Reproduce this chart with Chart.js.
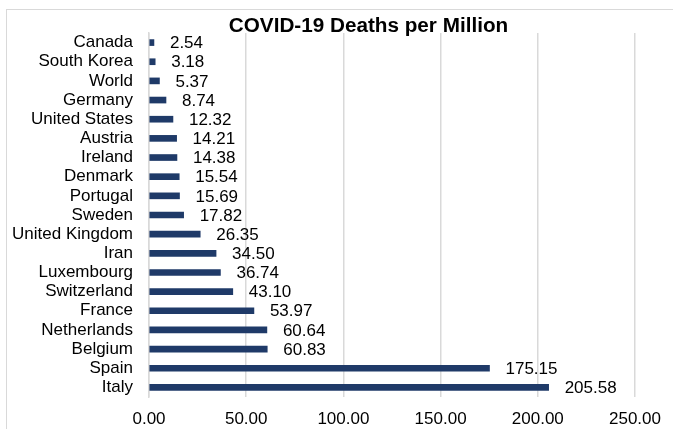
<!DOCTYPE html>
<html>
<head>
<meta charset="utf-8">
<script src="https://cdn.jsdelivr.net/npm/chart.js@4/dist/chart.umd.min.js"></script>
<style>
  html, body { margin: 0; padding: 0; background: #fff; overflow: hidden; }
  .frame { position: absolute; left: 6px; top: 9px; width: 800px; height: 500px; border: 1px solid #d9d9d9; }
  .wrap { position: absolute; left: 0; top: 0; width: 673px; height: 429px; }
</style>
</head>
<body>
<div class="frame"></div>
<div class="wrap"><canvas id="chart"></canvas></div>
<script>
const chartTitle = 'COVID-19 Deaths per Million';
const countries = ['Canada', 'South Korea', 'World', 'Germany', 'United States', 'Austria', 'Ireland',
  'Denmark', 'Portugal', 'Sweden', 'United Kingdom', 'Iran', 'Luxembourg', 'Switzerland', 'France',
  'Netherlands', 'Belgium', 'Spain', 'Italy'];
const deathsPerMillion = [2.54, 3.18, 5.37, 8.74, 12.32, 14.21, 14.38, 15.54, 15.69, 17.82, 26.35,
  34.50, 36.74, 43.10, 53.97, 60.64, 60.83, 175.15, 205.58];
const xTicks = [0, 50, 100, 150, 200, 250];

const FONT = '"Liberation Sans", Arial, sans-serif';
const BAR = '#1f3a68';
const GRID = '#d9d9d9';

// value labels at the end of each bar
const barLabels = {
  id: 'barLabels',
  afterDatasetsDraw(chart) {
    const ctx = chart.ctx;
    const meta = chart.getDatasetMeta(0);
    ctx.save();
    ctx.font = '17px ' + FONT;
    ctx.fillStyle = '#000';
    ctx.textAlign = 'left';
    ctx.textBaseline = 'middle';
    meta.data.forEach((bar, i) => {
      ctx.fillText(deathsPerMillion[i].toFixed(2), bar.x + 16, bar.y + 1);
    });
    ctx.restore();
  }
};

// excel-style title, centred on the whole chart frame
const frameTitle = {
  id: 'frameTitle',
  afterDraw(chart) {
    const ctx = chart.ctx;
    ctx.save();
    ctx.font = 'bold 20.7px ' + FONT;
    ctx.fillStyle = '#000';
    ctx.textAlign = 'center';
    ctx.textBaseline = 'alphabetic';
    ctx.fillText(chartTitle, 368.5, 31.7);
    ctx.restore();
  }
};

new Chart(document.getElementById('chart'), {
  type: 'bar',
  data: {
    labels: countries,
    datasets: [{
      label: 'Deaths per Million',
      data: deathsPerMillion,
      backgroundColor: BAR,
      barThickness: 6
    }]
  },
  options: {
    indexAxis: 'y',
    responsive: true,
    maintainAspectRatio: false,
    animation: false,
    layout: { padding: { top: 33, right: 36.5, left: 0, bottom: 0 } },
    plugins: {
      legend: { display: false },
      title: { display: false },
      tooltip: { enabled: false }
    },
    scales: {
      x: {
        min: 0,
        max: 250,
        afterBuildTicks: s => { s.ticks = xTicks.map(v => ({ value: v })); },
        afterFit: s => { s.height = 32; },
        ticks: {
          color: '#000',
          font: { family: FONT, size: 17 },
          padding: 12,
          maxRotation: 0,
          callback: v => Number(v).toFixed(2)
        },
        grid: { color: GRID, lineWidth: 1.5, drawTicks: false },
        border: { display: false }
      },
      y: {
        afterFit: s => { s.width = 149; },
        ticks: {
          color: '#000',
          font: { family: FONT, size: 17 },
          padding: 16,
          autoSkip: false
        },
        grid: { display: false, drawTicks: false },
        border: { display: true, color: GRID, width: 1.5 }
      }
    }
  },
  plugins: [barLabels, frameTitle]
});
</script>
</body>
</html>
